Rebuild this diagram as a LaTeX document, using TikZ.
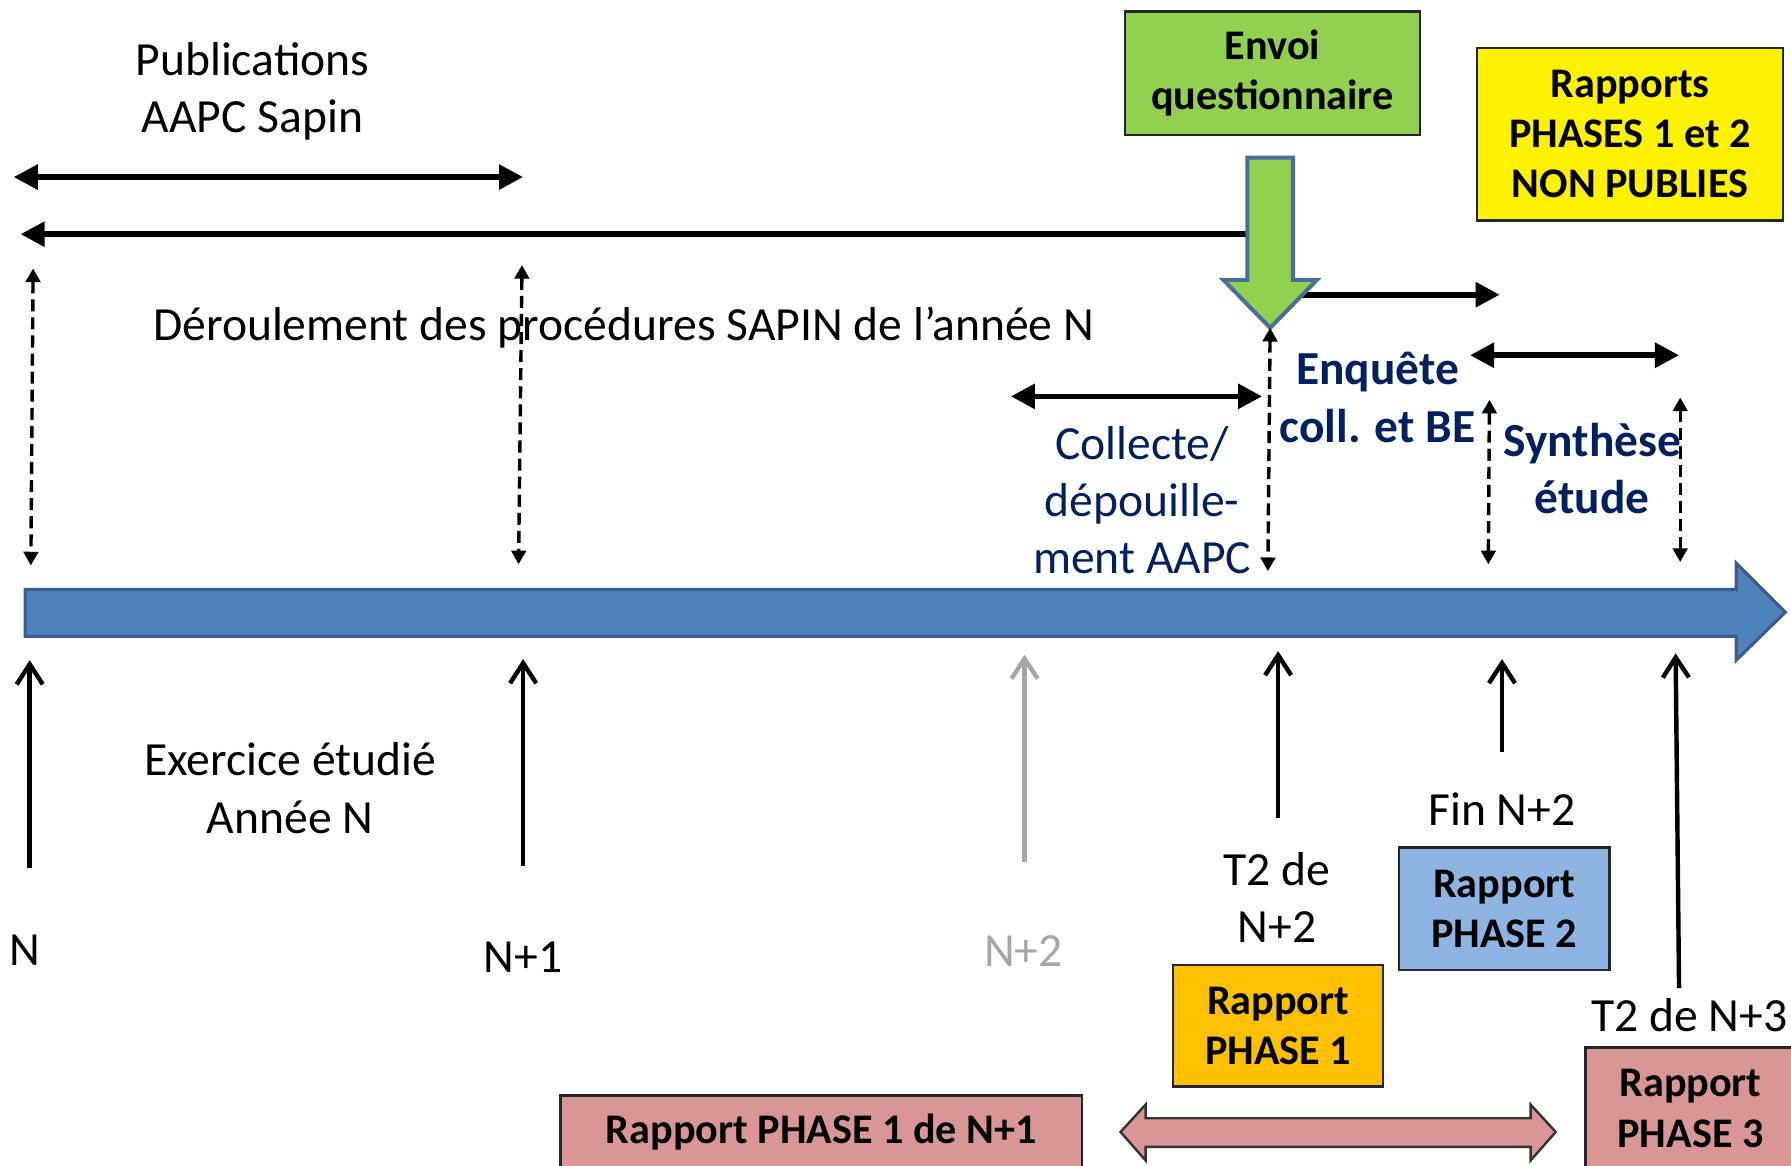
\documentclass[tikz,border=0pt]{standalone}
\usepackage{fontspec}
\setmainfont{Carlito}
\usetikzlibrary{arrows.meta}
\definecolor{ablue}{HTML}{4F81BD}
\definecolor{ablueb}{HTML}{3A5F8C}
\definecolor{agreen}{HTML}{92D050}
\definecolor{agreenb}{HTML}{4A6E99}
\definecolor{navy}{HTML}{002060}
\definecolor{pinkr}{HTML}{D99694}
\definecolor{orangeb}{HTML}{FFC000}
\definecolor{lblue}{HTML}{8EB4E3}
\definecolor{grayt}{HTML}{A6A6A6}
\tikzset{
  bigtip/.tip={Triangle[length=6pt,width=6pt]},
  smalltip/.tip={Triangle[length=3.4pt,width=3.6pt]},
  opentip/.tip={Straight Barb[length=5pt,width=6.5pt]},
  hline/.style={line width=1.4pt},
  dline/.style={line width=0.85pt, dash pattern=on 3pt off 1.5pt, smalltip-smalltip},
  uparrow/.style={line width=1.1pt, -opentip},
  reg/.style={font=\fontsize{11.85}{14.2}\selectfont, align=center, inner sep=0pt},
  blu/.style={font=\fontsize{11.85}{14.2}\selectfont, text=navy, align=center, inner sep=0pt},
  blub/.style={font=\fontsize{11.8}{14.2}\selectfont\bfseries, text=navy, align=center, inner sep=0pt},
  box/.style={draw=black!85, line width=0.6pt, font=\fontsize{10.5}{12.5}\selectfont\bfseries, align=center, inner sep=0pt},
}
\begin{document}
\begin{tikzpicture}[x=0.01cm,y=-0.01cm]
\useasboundingbox (0,0) rectangle (1568,1020);
\clip (0,0) rectangle (1568,1020);

% ---- coordinates
\coordinate (pubL) at (12,155);   \coordinate (pubR) at (458,155);
\coordinate (derR) at (1112,205); \coordinate (derL) at (18,205);
\coordinate (enqS) at (1112,258); \coordinate (enqE) at (1313,258);
\coordinate (colL) at (885,347);  \coordinate (colR) at (1105,347);
\coordinate (synL) at (1287,311); \coordinate (synR) at (1470,311);
\coordinate (d1t) at (29,235);    \coordinate (d1b) at (27,495);
\coordinate (d2t) at (457,232);   \coordinate (d2b) at (454,494);
\coordinate (d3t) at (1112,287);  \coordinate (d3b) at (1110,500);
\coordinate (d4t) at (1304,350);  \coordinate (d4b) at (1303,494);
\coordinate (d5t) at (1471,348);  \coordinate (d5b) at (1471,492);
\coordinate (u1b) at (26,760);    \coordinate (u1t) at (26,578);
\coordinate (u2b) at (458,758);   \coordinate (u2t) at (458,577);
\coordinate (u3b) at (897,755);   \coordinate (u3t) at (897,573);
\coordinate (u4b) at (1119,716);  \coordinate (u4t) at (1119,570);
\coordinate (u5b) at (1315,658);  \coordinate (u5t) at (1315,577);
\coordinate (u6b) at (1470,865);  \coordinate (u6t) at (1467,572);

% ---- main timeline arrow
\filldraw[fill=ablue, draw=ablueb, line width=0.8pt]
  (22,516) -- (1520,516) -- (1520,493) -- (1563,536) -- (1520,578)
  -- (1520,557) -- (22,557) -- cycle;

% ---- horizontal black arrows
\draw[hline, bigtip-bigtip] (pubL) -- (pubR);
\draw[hline, -bigtip] (derR) -- (derL);
\draw[hline, -bigtip] (enqS) -- (enqE);
\draw[hline, bigtip-bigtip] (colL) -- (colR);
\draw[hline, bigtip-bigtip] (synL) -- (synR);

% ---- green down arrow
\filldraw[fill=agreen, draw=agreenb, line width=1pt]
  (1092,138) -- (1132,138) -- (1132,245) -- (1153,245) -- (1112,287)
  -- (1071,245) -- (1092,245) -- cycle;

% ---- dashed double arrows
\draw[dline] (d1t) -- (d1b);
\draw[dline] (d2t) -- (d2b);
\draw[dline] (d3t) -- (d3b);
\draw[dline] (d4t) -- (d4b);
\draw[dline] (d5t) -- (d5b);

% ---- upward arrows
\draw[uparrow] (u1b) -- (u1t);
\draw[uparrow] (u2b) -- (u2t);
\draw[uparrow, grayt] (u3b) -- (u3t);
\draw[uparrow] (u4b) -- (u4t);
\draw[uparrow] (u5b) -- (u5t);
\draw[uparrow] (u6b) -- (u6t);

% ---- pink double block arrow
\filldraw[fill=pinkr, draw=black!80, line width=0.6pt]
  (981,991) -- (1003,967) -- (1003,979) -- (1340,979) -- (1340,967)
  -- (1362,991) -- (1340,1016) -- (1340,1004) -- (1003,1004) -- (1003,1016) -- cycle;

% ---- texts
\node[reg] (pub) at (221,80) {Publications\\AAPC Sapin};
\node[reg] (der) at (546,287) {Déroulement des procédures SAPIN de l’année N};
\node[blu] (col) at (1000,438) {Collecte/\\dépouille-\\ment AAPC};
\node[blub] (enq) at (1206,348) {Enquête\\coll. et BE};
\node[blub] (syn) at (1394,410) {Synthèse\\étude};
\node[reg] (exe) at (254,690) {Exercice étudié\\Année N};
\node[reg] (n0) at (22,832) {N};
\node[reg] (n1) at (458,838) {N+1};
\node[reg, text=grayt] (n2) at (896,833) {N+2};
\node[reg] (t2n2) at (1118,786) {T2 de\\N+2};
\node[reg] (fin) at (1315,708) {Fin N+2};
\node[reg] (t2n3) at (1479,889) {T2 de N+3};

% ---- boxes
\node[box, fill=agreen, minimum width=2.58cm, minimum height=1.08cm] (envoi) at (1114,64) {Envoi\\questionnaire};
\node[box, fill=yellow, minimum width=2.68cm, minimum height=1.51cm] (nonpub) at (1427,117.5) {Rapports\\PHASES 1 et 2\\NON PUBLIES};
\node[box, fill=lblue, minimum width=1.84cm, minimum height=1.07cm] (ph2) at (1317,795.5) {Rapport\\PHASE 2};
\node[box, fill=orangeb, minimum width=1.84cm, minimum height=1.06cm] (ph1) at (1119,898) {Rapport\\PHASE 1};
\node[box, fill=pinkr, minimum width=1.84cm, minimum height=1.07cm] (ph3) at (1480,970.5) {Rapport\\PHASE 3};
\node[box, fill=pinkr, minimum width=4.56cm, minimum height=0.64cm] (ph1n1) at (719,991) {Rapport PHASE 1 de N+1};
\end{tikzpicture}
\end{document}
